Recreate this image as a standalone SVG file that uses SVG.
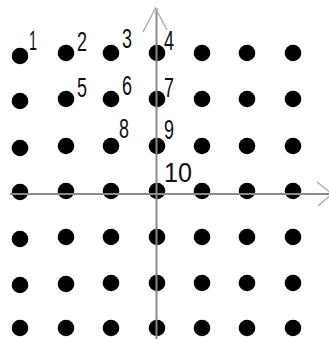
<svg xmlns="http://www.w3.org/2000/svg" width="329" height="339" viewBox="0 0 329 339">
<style>
.d{fill:#000}
.l{font-family:"Liberation Sans",Arial,sans-serif;font-size:27px;fill:#111}
.ax{stroke:#8a8a8a;stroke-width:2;fill:none}
.ah{stroke:#b0b0b0;stroke-width:1.5;fill:none}
</style>
<rect width="329" height="339" fill="#fff"/>
<g id="dots">
<g id="r1"><circle class="d" cx="20" cy="56" r="8.3"/><circle class="d" cx="66" cy="53" r="8.3"/><circle class="d" cx="111" cy="53" r="8.3"/><circle class="d" cx="157" cy="53" r="8.3"/><circle class="d" cx="202" cy="53" r="8.3"/><circle class="d" cx="247" cy="53" r="8.3"/><circle class="d" cx="293" cy="53" r="8.3"/></g>
<g id="r2"><circle class="d" cx="20" cy="101" r="8.3"/><circle class="d" cx="66" cy="99" r="8.3"/><circle class="d" cx="111" cy="99" r="8.3"/><circle class="d" cx="157" cy="99" r="8.3"/><circle class="d" cx="202" cy="99" r="8.3"/><circle class="d" cx="247" cy="99" r="8.3"/><circle class="d" cx="293" cy="99" r="8.3"/></g>
<g id="r3"><circle class="d" cx="20" cy="148" r="8.3"/><circle class="d" cx="66" cy="146" r="8.3"/><circle class="d" cx="111" cy="146" r="8.3"/><circle class="d" cx="157" cy="146" r="8.3"/><circle class="d" cx="202" cy="146" r="8.3"/><circle class="d" cx="247" cy="146" r="8.3"/><circle class="d" cx="293" cy="146" r="8.3"/></g>
<g id="r4"><circle class="d" cx="20" cy="192" r="8.3"/><circle class="d" cx="66" cy="191" r="8.3"/><circle class="d" cx="111" cy="191" r="8.3"/><circle class="d" cx="157" cy="191" r="8.3"/><circle class="d" cx="202" cy="191" r="8.3"/><circle class="d" cx="247" cy="191" r="8.3"/><circle class="d" cx="293" cy="191" r="8.3"/></g>
<g id="r5"><circle class="d" cx="20" cy="239" r="8.3"/><circle class="d" cx="66" cy="237" r="8.3"/><circle class="d" cx="111" cy="237" r="8.3"/><circle class="d" cx="157" cy="237" r="8.3"/><circle class="d" cx="202" cy="237" r="8.3"/><circle class="d" cx="247" cy="237" r="8.3"/><circle class="d" cx="293" cy="237" r="8.3"/></g>
<g id="r6"><circle class="d" cx="20" cy="285" r="8.3"/><circle class="d" cx="66" cy="284" r="8.3"/><circle class="d" cx="111" cy="283" r="8.3"/><circle class="d" cx="157" cy="283" r="8.3"/><circle class="d" cx="202" cy="283" r="8.3"/><circle class="d" cx="247" cy="283" r="8.3"/><circle class="d" cx="293" cy="283" r="8.3"/></g>
<g id="r7"><circle class="d" cx="20" cy="328" r="8.3"/><circle class="d" cx="66" cy="328" r="8.3"/><circle class="d" cx="111" cy="328" r="8.3"/><circle class="d" cx="157" cy="328" r="8.3"/><circle class="d" cx="202" cy="328" r="8.3"/><circle class="d" cx="247" cy="328" r="8.3"/><circle class="d" cx="293" cy="328" r="8.3"/></g>
</g>
<g id="connectors">
<line class="ax" x1="156.5" y1="8" x2="156.5" y2="339"/>
<polyline class="ah" points="143,32 155.5,8 167,30"/>
<line class="ax" x1="10" y1="194" x2="329" y2="194"/>
<polyline class="ah" points="317,182 332,194 318,206"/>
</g>
<g id="labels">
<text id="n1" class="l" x="29" y="50" textLength="8" lengthAdjust="spacingAndGlyphs">1</text>
<text id="n2" class="l" x="77" y="51" textLength="10" lengthAdjust="spacingAndGlyphs">2</text>
<text id="n3" class="l" x="122" y="48" textLength="10" lengthAdjust="spacingAndGlyphs">3</text>
<text id="n4" class="l" x="164" y="50" textLength="10" lengthAdjust="spacingAndGlyphs">4</text>
<text id="n5" class="l" x="77" y="97" textLength="10" lengthAdjust="spacingAndGlyphs">5</text>
<text id="n6" class="l" x="122" y="95" textLength="10" lengthAdjust="spacingAndGlyphs">6</text>
<text id="n7" class="l" x="164" y="97" textLength="10" lengthAdjust="spacingAndGlyphs">7</text>
<text id="n8" class="l" x="119" y="138" textLength="10" lengthAdjust="spacingAndGlyphs">8</text>
<text id="n9" class="l" x="164" y="139" textLength="10" lengthAdjust="spacingAndGlyphs">9</text>
<text id="n10" class="l" x="164" y="182" textLength="28" lengthAdjust="spacingAndGlyphs">10</text>
</g>
</svg>
